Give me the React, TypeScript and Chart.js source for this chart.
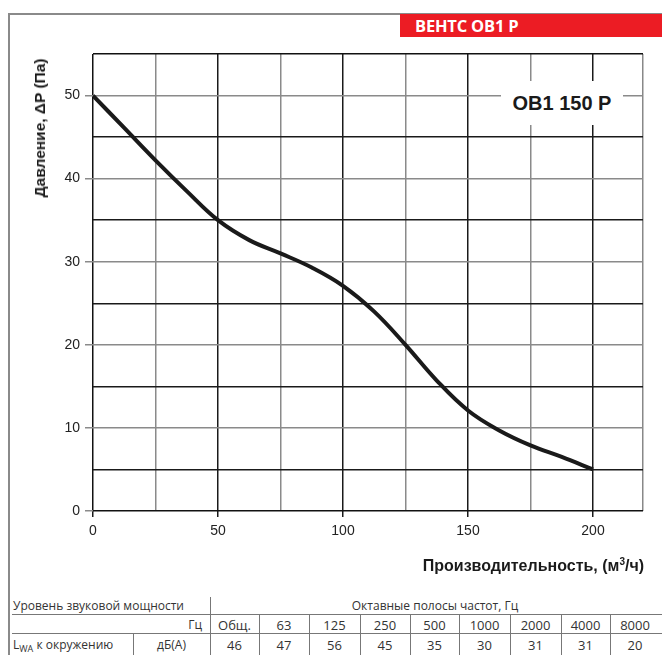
import React, { useEffect, useRef } from "react";
import { Chart, registerables } from "chart.js";

Chart.register(...registerables);

const flow = [0, 12.5, 25, 37.5, 50, 62.5, 75, 87.5, 100, 112.5, 125, 137.5, 150, 162.5, 175, 187.5, 200];
const pressure = [50, 46.1, 42.2, 38.5, 35.0, 32.6, 31.0, 29.3, 27.1, 24.0, 20.0, 15.7, 12.1, 9.7, 7.9, 6.5, 5.0];

const bandLabels = ["Общ.", "63", "125", "250", "500", "1000", "2000", "4000", "8000"];
const bandValues = ["46", "47", "56", "45", "35", "30", "31", "31", "20"];
const colEdges = [210, 259, 309, 360, 410, 459, 510, 561, 610, 660];

const xMax = 220;
const yMax = 55;

export default function App() {
  const ref = useRef<HTMLCanvasElement | null>(null);

  useEffect(() => {
    if (!ref.current) return;
    const chart = new Chart(ref.current, {
      type: "line",
      data: {
        datasets: [
          {
            data: flow.map((x, i) => ({ x, y: pressure[i] })),
            borderColor: "#1a1a1a",
            borderWidth: 4,
            pointRadius: 0,
            tension: 0.4,
            fill: false,
          },
        ],
      },
      options: {
        animation: false,
        responsive: false,
        maintainAspectRatio: false,
        layout: { padding: { left: 0, top: 54, right: 19, bottom: 0 } },
        plugins: { legend: { display: false }, tooltip: { enabled: false } },
        scales: {
          x: {
            type: "linear",
            min: 0,
            max: xMax,
            afterFit: (s: any) => {
              s.height = 69;
            },
            border: { display: false },
            grid: {
              lineWidth: 1.5,
              tickLength: 6,
              color: (c: any) => {
                const v = c.tick?.value;
                if (v === 0) return "#111";
                if (v === xMax) return "#888";
                return v % 50 === 0 ? "#1a1a1a" : "#8a8a8a";
              },
              tickColor: (c: any) => {
                const v = c.tick?.value;
                return v % 50 === 0 && v !== xMax ? "#1a1a1a" : "rgba(0,0,0,0)";
              },
            },
            ticks: {
              stepSize: 25,
              autoSkip: false,
              maxRotation: 0,
              padding: 6,
              color: "#222",
              font: { family: "'Liberation Sans', Arial, sans-serif", size: 14 },
              callback: (v: any) => (v % 50 === 0 && v !== xMax ? String(v) : ""),
            },
          },
          y: {
            type: "linear",
            min: 0,
            max: yMax,
            afterFit: (s: any) => {
              s.width = 93;
            },
            border: { display: false },
            grid: {
              lineWidth: 1.5,
              tickLength: 8,
              color: (c: any) => {
                const v = c.tick?.value;
                if (v === 0 || v === yMax) return "#111";
                return v % 10 === 0 ? "#8a8a8a" : "#1a1a1a";
              },
              tickColor: (c: any) => {
                const v = c.tick?.value;
                return v % 10 === 0 && v !== yMax ? "#8a8a8a" : "rgba(0,0,0,0)";
              },
            },
            ticks: {
              stepSize: 5,
              autoSkip: false,
              padding: 5,
              color: "#222",
              font: { family: "'Liberation Sans', Arial, sans-serif", size: 14 },
              callback: (v: any) => (v % 10 === 0 && v !== yMax ? String(v) : ""),
            },
          },
        },
      },
    });
    return () => chart.destroy();
  }, []);

  const tableFont: React.CSSProperties = {
    position: "absolute",
    fontFamily: "'Open Sans', 'DejaVu Sans', sans-serif",
    fontSize: 12,
    color: "#333",
    lineHeight: "16px",
    whiteSpace: "nowrap",
  };
  const line = (l: number, t: number, w: number, h: number, color = "#777"): React.CSSProperties => ({
    position: "absolute",
    left: l,
    top: t,
    width: w,
    height: h,
    background: color,
  });

  return (
    <div
      style={{
        position: "fixed",
        left: 0,
        top: 0,
        width: 662,
        height: 655,
        background: "#fff",
        overflow: "hidden",
      }}
    >
      <canvas ref={ref} width={662} height={580} style={{ position: "absolute", left: 0, top: 0, width: 662, height: 580 }} />

      {/* frame */}
      <div style={line(8, 13, 654, 2, "#8a8a8a")} />
      <div style={line(8, 13, 2, 642, "#8a8a8a")} />

      {/* red header */}
      <div
        style={{
          position: "absolute",
          left: 400,
          top: 14,
          width: 262,
          height: 23,
          background: "#ec1c24",
          color: "#fff",
          fontFamily: "'Open Sans', 'DejaVu Sans', sans-serif",
          fontWeight: 700,
          fontSize: 16.5,
          lineHeight: "23px",
          paddingLeft: 15,
          boxSizing: "border-box",
          letterSpacing: "-0.2px",
        }}
      >
        ВЕНТС ОВ1 Р
      </div>

      {/* model label */}
      <div
        style={{
          position: "absolute",
          left: 501,
          top: 81,
          width: 122,
          height: 44,
          background: "#fff",
          fontFamily: "'Liberation Sans', Arial, sans-serif",
          fontWeight: 700,
          fontSize: 20,
          lineHeight: "44px",
          textAlign: "center",
          color: "#1a1a1a",
        }}
      >
        OB1 150 P
      </div>

      {/* y title */}
      <div
        style={{
          position: "absolute",
          left: 40,
          top: 128,
          transform: "translate(-50%, -50%) rotate(-90deg)",
          fontFamily: "'Liberation Sans', Arial, sans-serif",
          fontWeight: 700,
          fontSize: 15.5,
          color: "#1a1a1a",
          whiteSpace: "nowrap",
        }}
      >
        Давление, ΔP (Па)
      </div>

      {/* x title */}
      <div
        style={{
          position: "absolute",
          right: 662 - 644,
          top: 557,
          fontFamily: "'Liberation Sans', Arial, sans-serif",
          fontWeight: 700,
          fontSize: 16,
          color: "#1a1a1a",
          whiteSpace: "nowrap",
        }}
      >
        Производительность, (м<sup style={{ fontSize: 10, verticalAlign: "6px", lineHeight: 0 }}>3</sup>/ч)
      </div>

      {/* table */}
      <div style={{ ...tableFont, left: 13, top: 598 }}>Уровень звуковой мощности</div>
      <div style={{ ...tableFont, left: 210, width: 450, top: 598, textAlign: "center" }}>Октавные полосы частот, Гц</div>
      <div style={line(12, 614, 650, 1)} />
      <div style={line(12, 633, 650, 1)} />
      <div style={line(210, 597, 1, 58)} />
      <div style={line(133, 633, 1, 22)} />
      {colEdges.slice(1, -1).map((x) => (
        <div key={x} style={line(x, 615, 1, 40)} />
      ))}
      <div style={{ ...tableFont, left: 150, width: 52, top: 617, textAlign: "right" }}>Гц</div>
      <div style={{ ...tableFont, left: 13, top: 637 }}>
        L<sub style={{ fontSize: 9, verticalAlign: "-3px", lineHeight: 0 }}>WA</sub> к окружению
      </div>
      <div style={{ ...tableFont, left: 133, width: 77, top: 637, textAlign: "center" }}>дБ(А)</div>
      {bandLabels.map((b, i) => (
        <div
          key={"b" + i}
          style={{ ...tableFont, fontSize: 13, left: colEdges[i], width: colEdges[i + 1] - colEdges[i], top: 617, textAlign: "center" }}
        >
          {b}
        </div>
      ))}
      {bandValues.map((v, i) => (
        <div
          key={"v" + i}
          style={{ ...tableFont, fontSize: 13, left: colEdges[i], width: colEdges[i + 1] - colEdges[i], top: 637, textAlign: "center" }}
        >
          {v}
        </div>
      ))}
    </div>
  );
}
